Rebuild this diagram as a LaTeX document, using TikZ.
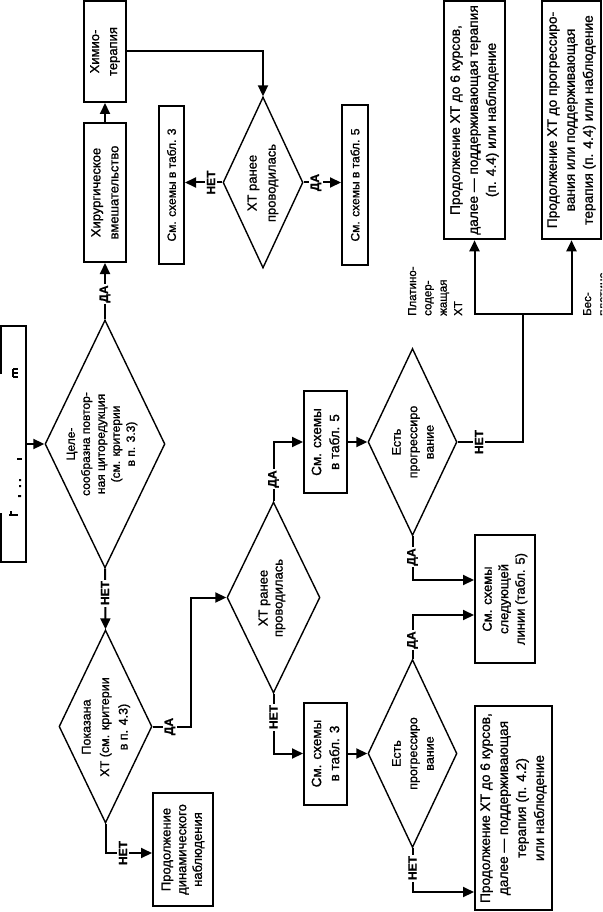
\documentclass[tikz,border=0pt]{standalone}
\usepackage{fontspec}
\setmainfont{Liberation Sans}[FakeBold=1.2]
\usetikzlibrary{shapes.geometric,arrows.meta}
\newcommand\fsz[2]{\fontsize{#1}{#2}\selectfont}
\tikzset{
  box/.style={draw, rectangle, line width=2pt, rotate=90, inner sep=0pt, align=center},
  dia/.style={draw, diamond, line width=1.4pt, rotate=90, inner sep=0pt},
  txt/.style={rotate=90, align=center, inner sep=0pt},
  ln/.style={line width=2pt},
  arr/.style={line width=2pt, -{Triangle[length=11pt,width=10pt]}},
  lab/.style={rotate=90, fill=white, inner sep=1.5pt, font=\bfseries\fsz{12}{14}},
}
\begin{document}
\begin{tikzpicture}[x=1pt,y=-1pt]
\useasboundingbox (0,0) rectangle (602,912);
\clip (0,0) rectangle (602,912);

% --- top (cut) box with text remnants
\node[rotate=90, minimum width=236pt, minimum height=25pt, inner sep=0pt] (tbox) at (13.5,444) {};
\draw[line width=2pt] (1,374) -- (1,326) -- (26,326) -- (26,562) -- (1,562) -- (1,513);
\draw[line width=1.3pt] (13,369) -- (13,377) (13,369) -- (18,369) (13,373) -- (18,373) (13,377) -- (18,377);
\draw[line width=1.3pt] (17,459) -- (22,459);
\fill (19,479) rectangle (21,481) (19,485) rectangle (21,487) (18,495) rectangle (21,497);
\draw[line width=1.3pt] (9,515) -- (18,515) (11,511) -- (11,515);

% --- boxes
\node[box, minimum width=101pt, minimum height=42pt, font=\fsz{13}{18}] (chemo) at (105,51.5) {Химио-\\терапия};
\node[box, minimum width=139pt, minimum height=42pt, font=\fsz{13}{18}] (surg) at (105,192.5) {Хирургическое\\вмешательство};
\node[box, minimum width=158pt, minimum height=25pt, font=\fsz{12}{14}] (t3top) at (171.5,185) {См. схемы в табл. 3};
\node[box, minimum width=160pt, minimum height=26pt, font=\fsz{12}{14}] (t5top) at (355,185) {См. схемы в табл. 5};
\node[box, line width=2.6pt, minimum width=238pt, minimum height=61pt, font=\fsz{13.7}{18}] (P1) at (474.5,120) {Продолжение ХТ до 6 курсов,\\далее — поддерживающая терапия\\(п. 4.4) или наблюдение};
\node[box, line width=2.6pt, minimum width=238pt, minimum height=59pt, font=\fsz{13.7}{18}] (P2) at (571.5,120) {Продолжение ХТ до прогрессиро-\\вания или поддерживающая\\терапия (п. 4.4) или наблюдение};
\node[box, minimum width=102pt, minimum height=43pt, font=\fsz{13.5}{18}] (t5mid) at (325.5,442) {См. схемы\\в табл. 5};
\node[box, minimum width=128pt, minimum height=60pt, font=\fsz{13}{16.5}] (next) at (505,599) {См. схемы\\следующей\\линии (табл. 5)};
\node[box, minimum width=102pt, minimum height=43pt, font=\fsz{13.5}{18}] (t3low) at (325.5,753.5) {См. схемы\\в табл. 3};
\node[box, minimum width=204pt, minimum height=77pt, font=\fsz{13.7}{18}] (P3) at (513.5,808) {Продолжение ХТ до 6 курсов,\\далее — поддерживающая\\терапия (п. 4.2)\\или наблюдение};
\node[box, minimum width=113pt, minimum height=60pt, font=\fsz{13}{15.7}] (dyn) at (183,849.5) {Продолжение\\динамического\\наблюдения};

% --- diamonds
\node[dia, minimum width=248pt, minimum height=120pt] (D1) at (105,444) {};
\node[txt, font=\fsz{12}{15}] (D1t) at (102,444) {Целе-\\сообразна повтор-\\ная циторедукция\\(см. критерии\\в п. 3.3)};
\node[dia, minimum width=171pt, minimum height=80pt] (D2) at (263,182.5) {};
\node[txt, font=\fsz{13}{19}] (D2t) at (263,183) {ХТ ранее\\проводилась};
\node[dia, minimum width=193pt, minimum height=93pt] (D3) at (105.5,726.5) {};
\node[txt, font=\fsz{12.5}{18.5}] (D3t) at (106,727) {Показана\\ХТ (см. критерии\\в п. 4.3)};
\node[dia, minimum width=191pt, minimum height=93pt] (D4) at (273.5,597.5) {};
\node[txt, font=\fsz{13}{15}] (D4t) at (272,598) {ХТ ранее\\проводилась};
\node[dia, minimum width=187pt, minimum height=89pt] (D5) at (412.5,442) {};
\node[txt, font=\fsz{12.5}{16.5}] (D5t) at (413,442) {Есть\\прогрессиро\\вание};
\node[dia, minimum width=188pt, minimum height=89pt] (D6) at (412.5,753.5) {};
\node[txt, font=\fsz{12.5}{16.5}] (D6t) at (413,753.5) {Есть\\прогрессиро\\вание};

% --- helper coordinates
\coordinate (hx) at (191,0);
\coordinate (jn) at (523,314);

% --- connectors
\draw[arr] (tbox.south) -- (D1.north);
\draw[arr] (D1.east) -- (surg.west);
\draw[arr] (surg.east) -- (chemo.west);
\draw[arr] (chemo.south) -| (D2.east);
\draw[arr] (D2.north) -- (D2.north -| t3top.south);
\draw[arr] (D2.south) -- (D2.south -| t5top.north);
\draw[arr] (D1.west) -- (D3.east);
\draw[arr] (D3.south) -- (D3.south -| hx) |- (D4.north);
\draw[arr] (D3.west) |- (dyn.north |- 0,853);
\draw[arr] (D4.east) |- (t5mid.north);
\draw[arr] (D4.west) |- (t3low.north);
\draw[arr] (t5mid.south) -- (D5.north);
\draw[arr] (t3low.south) -- (D6.north);
\draw[arr] (D5.west) |- (next.north |- 0,580);
\draw[arr] (D6.east) |- (next.north |- 0,615);
\draw[arr] (D6.west) |- (P3.north |- 0,892);
\draw[ln] (D5.south) -| (jn);
\draw[arr] (jn) -| (P1.west);
\draw[arr] (jn) -| (P2.west);

% --- branch labels
\node[lab] (l1) at (105,294) {ДА};
\node[lab] (l2) at (211,182.5) {НЕТ};
\node[lab] (l3) at (316,182.5) {ДА};
\node[lab] (l4) at (105,593) {НЕТ};
\node[lab] (l5) at (170,726.5) {ДА};
\node[lab] (l6) at (123,853) {НЕТ};
\node[lab] (l7) at (273.5,479) {ДА};
\node[lab] (l8) at (273.5,717) {НЕТ};
\node[lab] (l9) at (412.5,557) {ДА};
\node[lab] (l10) at (412.5,640) {ДА};
\node[lab] (l11) at (412.5,868) {НЕТ};
\node[lab] (l12) at (479,442) {НЕТ};

% --- side labels
\node[txt, anchor=north west, align=left, font=\fsz{11.5}{15.3}] (plat) at (408,316) {Платино-\\содер-\\жащая\\ХТ};
\node[txt, anchor=north west, align=left, font=\fsz{11.5}{15.3}] (bes) at (583,316) {Бес-\\платино-\\вая\\ХТ};
\end{tikzpicture}
\end{document}
